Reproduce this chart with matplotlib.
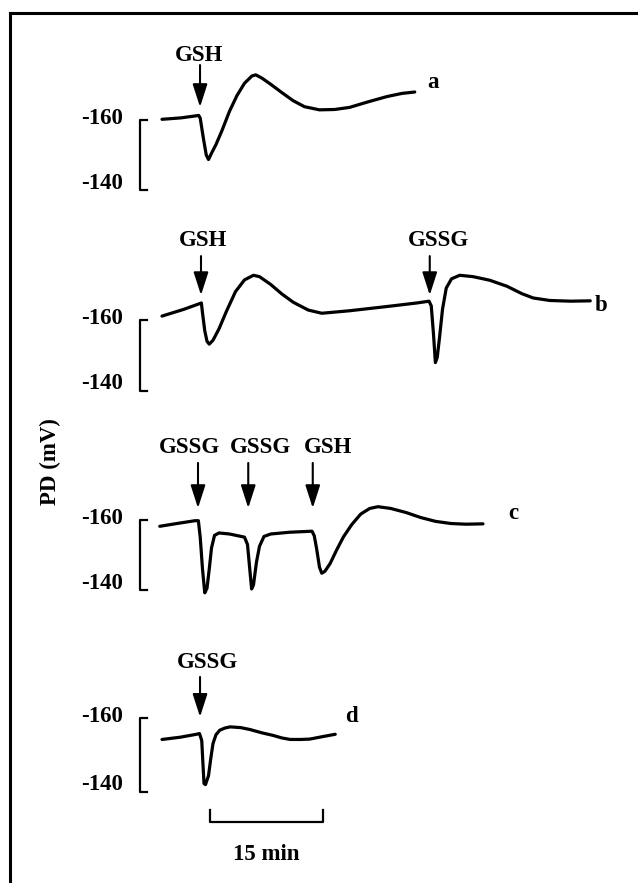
import matplotlib
matplotlib.use("Agg")
import matplotlib.pyplot as plt
from matplotlib.lines import Line2D

plt.rcParams['font.family'] = ['Liberation Serif', 'DejaVu Serif']
plt.rcParams['font.weight'] = 'bold'

# traces: time (min) and PD (mV)
t_a = [0, 2.5, 4.9, 5.1, 5.5, 5.9, 6.2, 6.6, 7.2, 8.0, 9.0, 10.0, 11.0, 12.0, 12.5, 13.3,
       14.5, 16.0, 17.5, 19.0, 21.0, 23.0, 25.0, 27.5, 30.0, 32.0, 33.7]
pd_a = [-160.2, -160.6, -161.3, -160.5, -155, -150, -148.7, -150.5, -153, -157, -162.5,
        -167, -170.5, -172.6, -172.9, -172, -170.2, -167.8, -165.5, -163.8, -162.9, -163.0,
        -163.6, -165.2, -166.7, -167.6, -168.0]

t_b = [0, 2.9, 5.0, 5.25, 5.4, 5.7, 6.0, 6.3, 6.8, 7.6, 8.6, 9.8, 11.0, 12.2, 13.0, 14.5,
       16.0, 17.5, 19.5, 21.3, 25.0, 30.0, 34.0, 35.6, 35.9, 36.2, 36.45, 36.7, 37.0, 37.4,
       37.9, 38.6, 39.7, 41.5, 43.7, 46.0, 48.0, 49.5, 51.7, 54.5, 57.1]
pd_b = [-161.1, -163.0, -164.6, -164.8, -162, -157, -154, -153.2, -154.3, -157.5, -162.5,
        -168, -171.3, -172.6, -172.2, -170, -167.3, -165, -162.8, -161.9, -162.6, -163.8,
        -164.8, -165.3, -164, -156, -148, -149.5, -155, -163, -169, -171.6, -172.6, -172.2,
        -171.2, -169.5, -167.4, -166.2, -165.5, -165.3, -165.4]

t_c = [-0.3, 2.0, 4.4, 4.85, 5.1, 5.4, 5.7, 6.0, 6.3, 6.6, 7.0, 7.6, 9.0, 11.0, 11.4, 11.7,
       11.95, 12.2, 12.6, 13.0, 13.6, 14.5, 17.0, 20.0, 20.3, 20.6, 21.0, 21.3, 21.7, 22.4,
       23.3, 24.2, 25.3, 26.5, 27.7, 28.8, 30.5, 32.6, 34.5, 36.5, 38.5, 40.5, 42.8]
pd_c = [-158.2, -159.0, -159.8, -159.8, -155, -146, -139.2, -140.5, -146, -152, -155.6,
        -156.3, -156.0, -155.1, -153, -146, -140.3, -141.5, -148, -152.5, -155.3, -156.0,
        -156.5, -156.8, -155.5, -152, -146.5, -144.8, -145.3, -147.5, -151.5, -155.2, -158.7,
        -161.7, -163.3, -163.8, -163.3, -162.1, -160.7, -159.6, -159.0, -158.8, -158.9]

t_d = [0, 2.4, 4.6, 5.0, 5.3, 5.45, 5.6, 5.8, 6.2, 6.5, 6.8, 7.2, 7.7, 8.4, 9.1, 10.5, 11.7,
       13.3, 14.8, 16.0, 17.1, 18.5, 19.7, 21.5, 23.1]
pd_d = [-154.2, -154.8, -155.6, -155.8, -153.9, -148, -142.3, -142.0, -144.4, -149, -153.1,
        -155.5, -156.7, -157.3, -157.6, -157.4, -156.9, -156.0, -155.3, -154.6, -154.2, -154.2,
        -154.3, -155.0, -155.6]

traces = [t_a, t_b, t_c, t_d]
values = [pd_a, pd_b, pd_c, pd_d]
trace_names = ['a', 'b', 'c', 'd']

# additions: (time, agent)
events = [
    [(5.07, 'GSH')],
    [(5.2, 'GSH'), (35.7, 'GSSG')],
    [(4.8, 'GSSG'), (11.5, 'GSSG'), (20.1, 'GSH')],
    [(5.07, 'GSSG')],
]

# layout of each panel: pixel row of -160 mV, pixels per mV
rows = [120, 320, 520, 718]
px_per_mv = [3.5, 3.55, 3.5, 3.7]
# arrow tip / top (mV), label level (mV), label x shift (min)
arrow_tip = [-163.7, -167.0, -163.4, -160.3]
arrow_top = [-175.7, -178.0, -176.3, -171.1]
label_mv = [-178.3, -182.5, -180.6, -174.9]
label_dx = [[-0.1], [0.3, 1.1], [-1.1, 1.6, 2.0], [1.0]]
name_pos = [(36.1, -170.6), (58.5, -164.2), (46.8, -162.0), (25.3, -160.3)]

W, H = 638, 883
x0_px, px_per_min = 162, 7.5
fs = 16.5

fig = plt.figure(figsize=(W / 100, H / 100), dpi=100)

for i in range(4):
    ax = fig.add_axes([0, 0, 1, 1])
    ax.set_xlim(-x0_px / px_per_min, (W - x0_px) / px_per_min)
    ax.set_ylim(-160 + (H - rows[i]) / px_per_mv[i], -160 - rows[i] / px_per_mv[i])
    ax.axis('off')
    ax.patch.set_alpha(0)

    ax.plot(traces[i], values[i], color='black', lw=2.3, solid_capstyle='round',
            solid_joinstyle='round')

    # mV scale bracket
    xb, xt = -2.93, -2.0
    ax.plot([xt, xb, xb, xt], [-160, -160, -140, -140], color='black', lw=1.6)
    ax.text(-5.2, -160.5, '-160', ha='right', va='center', fontsize=fs)
    ax.text(-5.2, -142.0, '-140', ha='right', va='center', fontsize=fs)

    for k, (te, agent) in enumerate(events[i]):
        ax.annotate('', xy=(te, arrow_tip[i]), xytext=(te, arrow_top[i]),
                    arrowprops=dict(arrowstyle='-|>,head_length=1.4,head_width=0.45',
                                    color='black', lw=1.5, mutation_scale=10,
                                    shrinkA=0, shrinkB=0))
        ax.text(te + label_dx[i][k], label_mv[i], agent, ha='center', va='center', fontsize=fs)

    ax.text(name_pos[i][0], name_pos[i][1], trace_names[i], ha='center', va='center', fontsize=fs)

    if i == 3:
        # 15 min time bar
        t0, t1 = 6.4, 21.4
        ax.plot([t0, t0, t1, t1], [-135.1, -131.9, -131.9, -135.1], color='black', lw=1.6)
        ax.text((t0 + t1) / 2, -123.0, '15 min', ha='center', va='center', fontsize=fs)

fig.text(50 / W, 1 - 462 / H, 'PD (mV)', rotation=90, ha='center', va='center', fontsize=fs)

# frame
fig.add_artist(Line2D([10 / W, 10 / W], [0, 1 - 13 / H], color='black', lw=2.2))
fig.add_artist(Line2D([10 / W, 1], [1 - 13 / H, 1 - 13 / H], color='black', lw=2.2))

fig.savefig('out.png', dpi=100)
